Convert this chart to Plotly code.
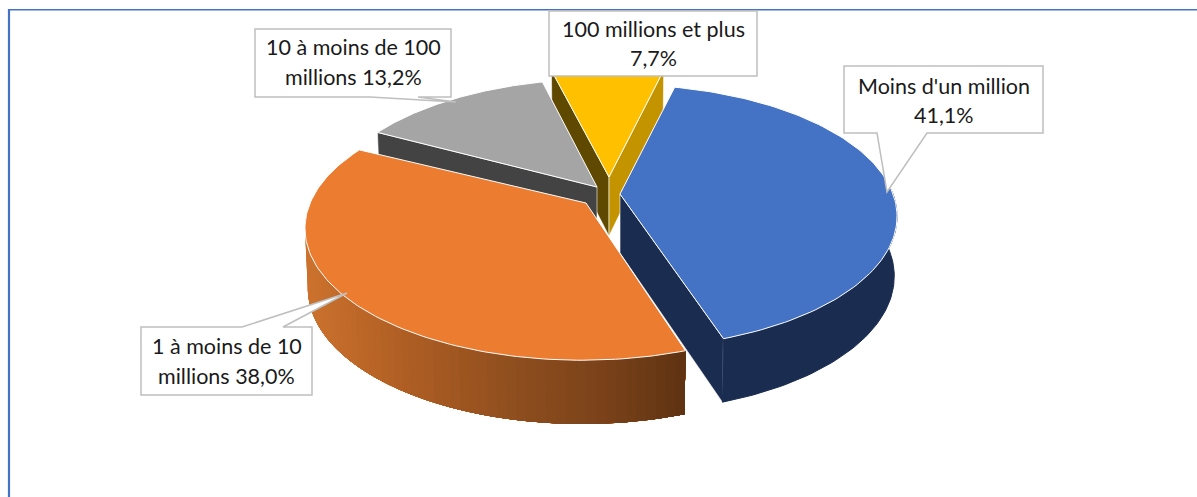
import numpy as np
import plotly.graph_objects as go

# ---- data ----
categories = ["Moins d'un million", "1 à moins de 10 millions", "10 à moins de 100 millions", "100 millions et plus"]
values = [41.1, 38.0, 13.2, 7.7]
label_lines = [["Moins d'un million", "{}"], ["1 à moins de 10", "millions {}"],
               ["10 à moins de 100", "millions {}"], ["100 millions et plus", "{}"]]

# ---- style / layout ----
top_colors = ["#4472C4", "#EB7C30", "#A5A5A5", "#FFC000"]
wall_colors = ["#1A2C50", None, None, None]
start_face = [None, None, "#434343", "#5F4800"]
end_face = ["#1A2C50", None, None, "#C49400"]
apexes = [(620, 194), (586, 203), (597, 187), (609, 177)]
rim_offsets = [(0, 0), (-4, 3), (3, 1.5), (0, 0)]
START = 13.5
RX, RY, K = 273.0, 128.0, 0.17
DEPTH = 59.0
SHRINK = 0.99
LINE = "#BFBFBF"
TEXT = "#1A1A1A"
FONT = "Lato"
FSIZE = 21.5
draw_order = [3, 2, 0, 1]
grad_stops = [(0.0, (0xCC, 0x72, 0x2E)), (0.25, (0xB0, 0x5F, 0x24)), (0.52, (0x92, 0x50, 0x1F)),
              (0.79, (0x7A, 0x42, 0x1A)), (1.0, (0x5F, 0x33, 0x12))]


def project(i, a_deg, r=1.0):
    a = np.radians(a_deg)
    x, y = r * np.sin(a), -r * np.cos(a)
    s = 1 / (1 - K * y)
    return (apexes[i][0] + r * rim_offsets[i][0] + RX * x * s,
            apexes[i][1] + r * rim_offsets[i][1] + RY * y * s, y)


def lower(i, a_deg, r=1.0):
    X, Y, y = project(i, a_deg, r)
    return apexes[i][0] + (X - apexes[i][0]) * SHRINK, Y + DEPTH * (1 + 0.08 * y)


def poly(xs, ys, fill, edge=None, width=1.0, name=None):
    return go.Scatter(x=list(xs) + [xs[0]], y=list(ys) + [ys[0]], mode="lines", fill="toself",
                      fillcolor=fill, line=dict(color=edge or fill, width=width),
                      hoverinfo="text" if name else "skip", text=name, showlegend=False)


def gradient(t):
    for (t0, c0), (t1, c1) in zip(grad_stops, grad_stops[1:]):
        if t <= t1:
            f = (t - t0) / (t1 - t0)
            return "rgb({},{},{})".format(*[int(c0[k] + f * (c1[k] - c0[k])) for k in range(3)])
    return "rgb(95,51,18)"


fig = go.Figure()
total = sum(values)
angles = np.concatenate([[0], np.cumsum(values)]) / total * 360 + START

for i in draw_order:
    a0, a1 = angles[i], angles[i + 1]
    # radial faces
    for col, a, vis in ((start_face[i], a0, -np.sin(np.radians(a0))), (end_face[i], a1, np.sin(np.radians(a1)))):
        if col and vis > 0:
            X, Y, _ = project(i, a)
            XL, YL = lower(i, a)
            aX, aY = lower(i, a, 0)
            fig.add_trace(poly([apexes[i][0], X, XL, aX], [apexes[i][1], Y, YL, aY], col, "rgba(255,255,255,0.75)", 0.8))
    # outer wall
    w0, w1 = max(a0, 85), min(a1, 268)
    if w1 > w0:
        if wall_colors[i]:
            aa = np.linspace(w0, w1, 60)
            top = [project(i, a) for a in aa]
            bot = [lower(i, a) for a in aa[::-1]]
            fig.add_trace(poly([p[0] for p in top] + [p[0] for p in bot],
                               [p[1] for p in top] + [p[1] for p in bot], wall_colors[i]))
        else:
            n = 60
            xleft = lower(i, w1)[0]
            xright = lower(i, w0)[0]
            edges = np.linspace(w1, w0, n + 1)
            for j in range(n):
                # painter's overlap: each band runs to the wall's right end, so no seams show
                sub = np.linspace(edges[j], w0, 50)
                top = [project(i, a) for a in sub]
                bot = [lower(i, a) for a in sub[::-1]]
                xs = [p[0] for p in top] + [p[0] for p in bot]
                ys = [p[1] for p in top] + [p[1] for p in bot]
                t = (lower(i, (edges[j] + edges[j + 1]) / 2)[0] - xleft) / (xright - xleft)
                fig.add_trace(poly(xs, ys, gradient(float(np.clip(t, 0, 1))), width=0))
    # top face
    aa = np.linspace(a0, a1, 120)
    pts = [project(i, a) for a in aa]
    fig.add_trace(poly([apexes[i][0]] + [p[0] for p in pts], [apexes[i][1]] + [p[1] for p in pts], top_colors[i],
                       "#FFFFFF", 1.0, "{}: {:.1f}%".format(categories[i], values[i])))

# callouts: box (x0, y0, x1, y1), pointer on the box's bottom or top edge (xa, tip_x, tip_y, xb)
boxes = [(844, 66, 1043, 133), (141, 327, 312, 395), (255, 29, 451, 97), (549, 11, 757, 76)]
pointers = [(877, 887, 192, 927), None, (370, 456, 102, 418), None]
top_pointers = [None, (242, 347, 293, 283), None, None]
line_y = [(86, 115), (346, 376), (47, 77), (29, 58)]
shapes = []
annotations = []
for i in range(4):
    x0, y0, x1, y1 = boxes[i]
    path = "M{} {} ".format(x0, y0)
    if top_pointers[i]:
        xa, tx, ty, xb = top_pointers[i]
        path += "L{} {} L{} {} L{} {} ".format(xa, y0, tx, ty, xb, y0)
    path += "L{} {} L{} {} ".format(x1, y0, x1, y1)
    if pointers[i]:
        xa, tx, ty, xb = pointers[i]
        path += "L{} {} L{} {} L{} {} ".format(xb, y1, tx, ty, xa, y1)
    path += "L{} {} Z".format(x0, y1)
    shapes.append(dict(type="path", path=path, xref="x", yref="y", fillcolor="#FFFFFF",
                       line=dict(color=LINE, width=1.5), layer="above"))
    val = "{:.1f}%".format(values[i]).replace(".", ",")
    for ln, y in zip(label_lines[i], line_y[i]):
        annotations.append(dict(x=(x0 + x1) / 2, y=y, xref="x", yref="y", text=ln.format(val), showarrow=False,
                                font=dict(family=FONT, size=FSIZE, color=TEXT), xanchor="center", yanchor="middle"))

# frame
shapes.append(dict(type="line", x0=9, x1=9, y0=9, y1=497, xref="x", yref="y", line=dict(color="#4472C4", width=2.2), layer="above"))
shapes.append(dict(type="line", x0=8, x1=1197, y0=9.75, y1=9.75, xref="x", yref="y", line=dict(color="#4472C4", width=1.5), layer="below"))

fig.update_layout(width=1197, height=497, margin=dict(l=0, r=0, t=0, b=0), paper_bgcolor="#FFFFFF", plot_bgcolor="#FFFFFF",
                  xaxis=dict(range=[0, 1197], visible=False, fixedrange=True),
                  yaxis=dict(range=[497, 0], visible=False, fixedrange=True),
                  shapes=shapes, annotations=annotations, showlegend=False)
fig.write_html("out.html", post_script="document.body.style.margin='0';document.body.style.overflow='hidden';",
               config={"displayModeBar": False})
